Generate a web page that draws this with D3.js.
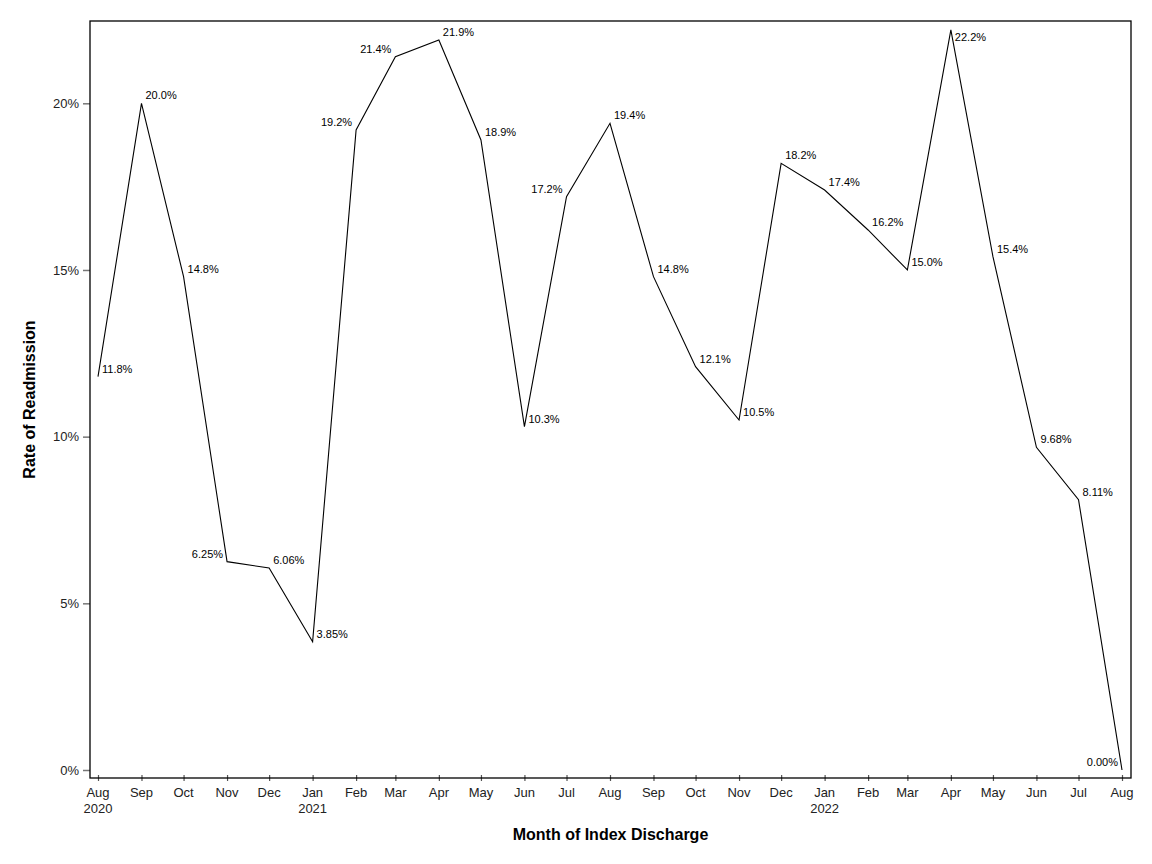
<!DOCTYPE html>
<html lang="en">
<head>
<meta charset="UTF-8">
<title>Rate of Readmission</title>
<script src="https://cdn.jsdelivr.net/npm/d3@7"></script>
<style>
  body { margin: 0; background: #fff; }
  text { font-family: "Liberation Sans", Arial, sans-serif; }
</style>
</head>
<body>
<div id="chart"></div>
<script>
// data
var months = ["2020-08","2020-09","2020-10","2020-11","2020-12","2021-01","2021-02","2021-03",
  "2021-04","2021-05","2021-06","2021-07","2021-08","2021-09","2021-10","2021-11","2021-12",
  "2022-01","2022-02","2022-03","2022-04","2022-05","2022-06","2022-07","2022-08"];
var rates = [11.8, 20.0, 14.8, 6.25, 6.06, 3.85, 19.2, 21.4, 21.9, 18.9, 10.3, 17.2, 19.4,
  14.8, 12.1, 10.5, 18.2, 17.4, 16.2, 15.0, 22.2, 15.4, 9.68, 8.11, 0.00];
var rateLabels = ["11.8%","20.0%","14.8%","6.25%","6.06%","3.85%","19.2%","21.4%","21.9%",
  "18.9%","10.3%","17.2%","19.4%","14.8%","12.1%","10.5%","18.2%","17.4%","16.2%","15.0%",
  "22.2%","15.4%","9.68%","8.11%","0.00%"];
// where each point label sits: tr = top right, tl = top left, br = bottom right
var labelSide = ["tr","tr","tr","tl","tr","tr","tl","tl","tr","tr","tr","tl","tr","tr","tr",
  "tr","tr","tr","tr","tr","br","tr","tr","tr","tl"];
var yTicks = [0, 5, 10, 15, 20];

var w = 1152, h = 864;
var parse = d3.timeParse("%Y-%m");

var data = months.map(function(m, i) {
  return { date: parse(m), rate: rates[i], label: rateLabels[i], side: labelSide[i] };
});

var x = d3.scaleTime()
  .domain(d3.extent(data, function(d) { return d.date; }))
  .range([98, 1122]);

var y = d3.scaleLinear()
  .domain([0, 20])
  .range([770, 103.3]);

var frame = { left: 90, right: 1131, top: 21, bottom: 778 };

var svg = d3.select("#chart").append("svg")
  .attr("width", w)
  .attr("height", h);

svg.append("rect")
  .attr("width", w).attr("height", h)
  .attr("fill", "#fff");

// y axis
var yAxis = svg.append("g")
  .attr("transform", "translate(" + frame.left + ",0)")
  .call(d3.axisLeft(y).tickValues(yTicks).tickSize(7).tickPadding(4)
    .tickFormat(function(d) { return d + "%"; }));
yAxis.select(".domain").remove();
yAxis.selectAll(".tick line").attr("stroke", "#777").attr("stroke-width", 1.5);
yAxis.selectAll(".tick text")
  .attr("font-size", "13px")
  .attr("fill", "#222")
  .attr("font-family", "Liberation Sans, Arial, sans-serif");

// x axis: ticks cross the frame line
var xAxis = svg.append("g")
  .attr("transform", "translate(0," + (frame.bottom - 3) + ")")
  .call(d3.axisBottom(x).tickValues(data.map(function(d) { return d.date; }))
    .tickSize(6).tickPadding(4).tickFormat(""));
xAxis.select(".domain").remove();
xAxis.selectAll(".tick line").attr("stroke", "#555").attr("stroke-width", 1.2);

var tickLabels = svg.append("g").selectAll("text")
  .data(data)
  .enter()
  .append("text")
  .attr("x", function(d) { return x(d.date); })
  .attr("y", frame.bottom + 19)
  .attr("text-anchor", "middle")
  .attr("font-size", "13px")
  .attr("fill", "#222");
tickLabels.append("tspan")
  .attr("x", function(d) { return x(d.date); })
  .text(function(d) { return d3.timeFormat("%b")(d.date); });
tickLabels.filter(function(d, i) { return i == 0 || d.date.getMonth() == 0; })
  .append("tspan")
  .attr("x", function(d) { return x(d.date); })
  .attr("dy", "1.25em")
  .text(function(d) { return d3.timeFormat("%Y")(d.date); });

// frame
svg.append("rect")
  .attr("x", frame.left)
  .attr("y", frame.top)
  .attr("width", frame.right - frame.left)
  .attr("height", frame.bottom - frame.top)
  .attr("fill", "none")
  .attr("stroke", "#000")
  .attr("stroke-width", 1.3);

// line
var line = d3.line()
  .x(function(d) { return x(d.date); })
  .y(function(d) { return y(d.rate); });

svg.append("path")
  .datum(data)
  .attr("d", line)
  .attr("fill", "none")
  .attr("stroke", "#000")
  .attr("stroke-width", 1.1);

// point labels
svg.selectAll(".pt-label")
  .data(data)
  .enter()
  .append("text")
  .classed("pt-label", true)
  .attr("x", function(d) { return x(d.date) + (d.side == "tl" ? -4 : 4); })
  .attr("y", function(d) { return y(d.rate) + (d.side == "br" ? 11 : -4); })
  .attr("text-anchor", function(d) { return d.side == "tl" ? "end" : "start"; })
  .attr("font-size", "11px")
  .attr("fill", "#000")
  .text(function(d) { return d.label; });

// axis titles
svg.append("text")
  .attr("x", (frame.left + frame.right) / 2)
  .attr("y", 840)
  .attr("text-anchor", "middle")
  .attr("font-size", "16px")
  .attr("font-weight", "bold")
  .text("Month of Index Discharge");

svg.append("text")
  .attr("transform", "translate(35," + ((frame.top + frame.bottom) / 2) + ") rotate(-90)")
  .attr("text-anchor", "middle")
  .attr("font-size", "16px")
  .attr("font-weight", "bold")
  .text("Rate of Readmission");
</script>
</body>
</html>
